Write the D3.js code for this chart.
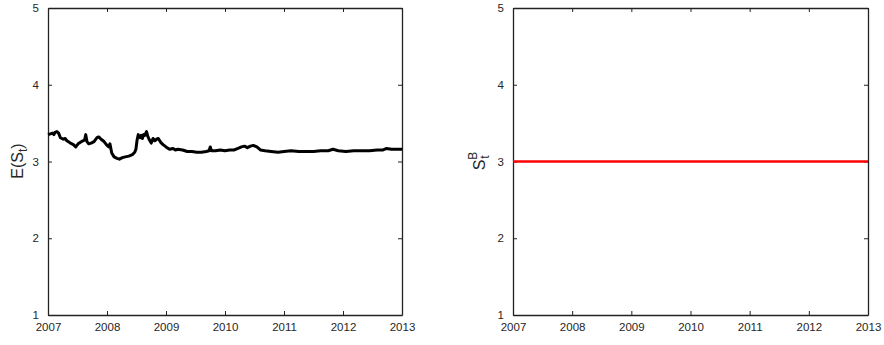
<!DOCTYPE html>
<html>
<head>
<meta charset="utf-8">
<script src="https://cdn.jsdelivr.net/npm/d3@7"></script>
<style>
  body { margin: 0; background: #fff; }
  text { font-family: "Liberation Sans", Arial, sans-serif; }
</style>
</head>
<body>
<script>
// expected spread (decimal year, value)
const years = [2007.00, 2007.04, 2007.08, 2007.10, 2007.12, 2007.15, 2007.18, 2007.21, 2007.26, 2007.29, 2007.32, 2007.38,
  2007.43, 2007.47, 2007.51, 2007.55, 2007.59, 2007.62, 2007.64, 2007.66, 2007.69, 2007.73,
  2007.78, 2007.83, 2007.86, 2007.90, 2007.95, 2008.00, 2008.03, 2008.05, 2008.08, 2008.12,
  2008.17, 2008.21, 2008.26, 2008.31, 2008.37, 2008.43, 2008.47, 2008.49, 2008.51, 2008.53,
  2008.56, 2008.58, 2008.60, 2008.62, 2008.64, 2008.67, 2008.69, 2008.72, 2008.75, 2008.78, 2008.81, 2008.84,
  2008.87, 2008.91, 2008.95, 2009.00, 2009.06, 2009.12, 2009.16, 2009.20, 2009.28, 2009.36, 2009.44,
  2009.52, 2009.60, 2009.68, 2009.73, 2009.75, 2009.77, 2009.84, 2009.92, 2010.00, 2010.08,
  2010.15, 2010.22, 2010.28, 2010.33, 2010.38, 2010.43, 2010.48, 2010.54, 2010.60, 2010.68,
  2010.78, 2010.90, 2011.00, 2011.12, 2011.25, 2011.38, 2011.50, 2011.62, 2011.75, 2011.83,
  2011.92, 2012.05, 2012.18, 2012.32, 2012.45, 2012.58, 2012.68, 2012.74, 2012.82, 2012.92, 2013.00];
const values = [3.35, 3.36, 3.37, 3.35, 3.38, 3.39, 3.37, 3.31, 3.29, 3.30, 3.27, 3.24,
  3.22, 3.19, 3.23, 3.25, 3.27, 3.28, 3.35, 3.26, 3.23, 3.24,
  3.26, 3.31, 3.32, 3.29, 3.26, 3.21, 3.19, 3.23, 3.11, 3.06,
  3.04, 3.03, 3.05, 3.06, 3.07, 3.09, 3.12, 3.16, 3.28, 3.35,
  3.31, 3.34, 3.30, 3.35, 3.34, 3.39, 3.33, 3.28, 3.24, 3.30, 3.27, 3.29,
  3.30, 3.25, 3.22, 3.19, 3.16, 3.17, 3.15, 3.16, 3.15, 3.13, 3.13,
  3.12, 3.12, 3.13, 3.14, 3.19, 3.14, 3.14, 3.15, 3.14, 3.15,
  3.15, 3.17, 3.19, 3.20, 3.18, 3.20, 3.21, 3.19, 3.15, 3.14,
  3.13, 3.12, 3.13, 3.14, 3.13, 3.13, 3.13, 3.14, 3.14, 3.16,
  3.14, 3.13, 3.14, 3.14, 3.14, 3.15, 3.15, 3.17, 3.16, 3.16, 3.16];

// benchmark level, right panel (flat)
const benchYears = [2007, 2013];
const benchValues = [3, 3];

const xTicks = [2007, 2008, 2009, 2010, 2011, 2012, 2013];
const yTicks = [1, 2, 3, 4, 5];

const width = 884, height = 345;
const plotTop = 8, plotBottom = 315;

const svg = d3.select("body").append("svg")
  .attr("width", width)
  .attr("height", height);

function panel(x0, x1, xs, ys, color, lineW) {
  const x = d3.scaleLinear().domain([2007, 2013]).range([x0, x1]);
  const y = d3.scaleLinear().domain([1, 5]).range([plotBottom, plotTop]);
  const g = svg.append("g");

  // axes with inward ticks, mirrored on top/right (box on)
  const axB = g.append("g").attr("transform", `translate(0,${plotBottom})`)
    .call(d3.axisBottom(x).tickValues(xTicks).tickFormat(d3.format("d")).tickSizeInner(-4).tickSizeOuter(0).tickPadding(8));
  const axT = g.append("g").attr("transform", `translate(0,${plotTop})`)
    .call(d3.axisTop(x).tickValues(xTicks).tickFormat("").tickSizeInner(-4).tickSizeOuter(0));
  const axL = g.append("g").attr("transform", `translate(${x0},0)`)
    .call(d3.axisLeft(y).tickValues(yTicks).tickFormat(d3.format("d")).tickSizeInner(-4).tickSizeOuter(0).tickPadding(9));
  const axR = g.append("g").attr("transform", `translate(${x1},0)`)
    .call(d3.axisRight(y).tickValues(yTicks).tickFormat("").tickSizeInner(-4).tickSizeOuter(0));

  [axB, axT, axL, axR].forEach(a => {
    a.select(".domain").attr("stroke", "#222").attr("stroke-width", 1.3);
    a.selectAll(".tick line").attr("stroke", "#222");
    a.selectAll("text").attr("fill", "#262626").style("font-size", "11.5px");
  });

  const line = d3.line().x((d, i) => x(xs[i])).y((d, i) => y(ys[i]));
  g.append("path")
    .datum(ys)
    .attr("d", line)
    .attr("fill", "none")
    .attr("stroke", color)
    .attr("stroke-width", lineW)
    .attr("stroke-linejoin", "round");
  return g;
}

panel(48, 402, years, values, "#000", 3);
panel(513, 868, benchYears, benchValues, "#ff0000", 2.6);

// y labels
const lab1 = svg.append("text")
  .attr("transform", "translate(23,161) rotate(-90)")
  .attr("text-anchor", "middle")
  .style("font-size", "16px").attr("fill", "#262626");
lab1.append("tspan").text("E(S");
lab1.append("tspan").text("t").attr("dy", 4).style("font-size", "12px");
lab1.append("tspan").text(")").attr("dy", -4);

const lab2 = svg.append("text")
  .attr("transform", "translate(485,161) rotate(-90)")
  .attr("text-anchor", "middle")
  .style("font-size", "16px").attr("fill", "#262626");
lab2.append("tspan").text("S");
lab2.append("tspan").text("B").attr("dy", -8).style("font-size", "12px");
lab2.append("tspan").text("t").attr("dx", -7).attr("dy", 12).style("font-size", "12px");
</script>
</body>
</html>
